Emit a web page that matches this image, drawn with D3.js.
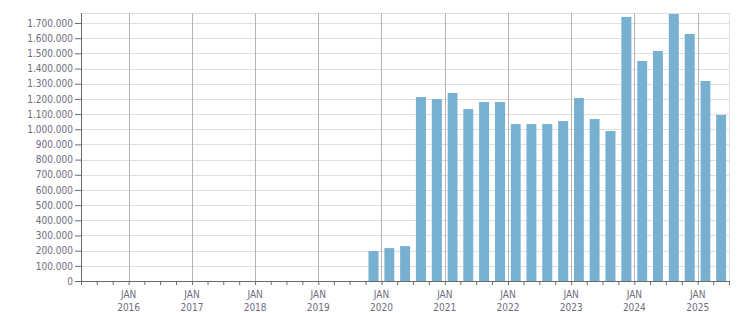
<!DOCTYPE html>
<html>
<head>
<meta charset="utf-8">
<script src="https://cdn.jsdelivr.net/npm/d3@7"></script>
<style>
  body { margin: 0; background: #fff; }
  svg { display: block; }
  text { font-family: "DejaVu Sans Condensed", "DejaVu Sans", sans-serif; font-size: 10px; fill: #6d6d7d; }
  .grid line { stroke: #dedede; }
  .yeargrid line { stroke: #b4b4b4; }
  .axis path, .axis line { stroke: #6a6a6a; }
</style>
</head>
<body>
<svg></svg>
<script>
// Quarterly totals (quarter start month), Apr 2015 - Apr 2025
var quarters = [
  "2015-04", "2015-07", "2015-10",
  "2016-01", "2016-04", "2016-07", "2016-10",
  "2017-01", "2017-04", "2017-07", "2017-10",
  "2018-01", "2018-04", "2018-07", "2018-10",
  "2019-01", "2019-04", "2019-07", "2019-10",
  "2020-01", "2020-04", "2020-07", "2020-10",
  "2021-01", "2021-04", "2021-07", "2021-10",
  "2022-01", "2022-04", "2022-07", "2022-10",
  "2023-01", "2023-04", "2023-07", "2023-10",
  "2024-01", "2024-04", "2024-07", "2024-10",
  "2025-01", "2025-04"
];
var values = [
  0, 0, 0,
  0, 0, 0, 0,
  0, 0, 0, 0,
  0, 0, 0, 0,
  0, 0, 0, 198000,
  217000, 230000, 1212000, 1199000,
  1239000, 1133000, 1179000, 1179000,
  1034000, 1034000, 1034000, 1054000,
  1206000, 1067000, 988000, 1740000,
  1450000, 1516000, 1759000, 1628000,
  1318000, 1094000
];
var yTicks = d3.range(0, 1700001, 100000);

// Layout
var svgWidth = 751,
    svgHeight = 313,
    margin = {top: 13, right: 22, bottom: 32, left: 81},
    width = svgWidth - margin.left - margin.right,
    height = svgHeight - margin.top - margin.bottom;

var parseMonth = d3.timeParse("%Y-%m");
var data = quarters.map(function (q, i) {
  var start = parseMonth(q);
  return {start: start, end: d3.timeMonth.offset(start, 3), value: values[i]};
});

var locale = d3.formatLocale({decimal: ",", thousands: ".", grouping: [3], currency: ["", ""]});
var fmt = locale.format(",d");

var x = d3.scaleTime()
  .domain([data[0].start, data[data.length - 1].end])
  .range([0, width]);

var y = d3.scaleLinear()
  .domain([0, 1766000])
  .range([height, 0]);

var svg = d3.select("svg")
  .attr("width", svgWidth)
  .attr("height", svgHeight);

var g = svg.append("g")
  .attr("transform", "translate(" + [margin.left, margin.top] + ")");

// horizontal grid
g.append("g")
  .classed("grid", true)
  .selectAll("line")
  .data(yTicks.concat([y.domain()[1]]))
  .enter()
    .append("line")
    .attr("x1", 0)
    .attr("x2", width)
    .attr("y1", function (d) { return Math.round(y(d)) + 0.5; })
    .attr("y2", function (d) { return Math.round(y(d)) + 0.5; });

// right border
g.append("line")
  .attr("x1", width + 0.5).attr("x2", width + 0.5)
  .attr("y1", 0).attr("y2", height)
  .style("stroke", "#dedede");

// year grid
var years = d3.timeYear.range(x.domain()[0], x.domain()[1]);
g.append("g")
  .classed("yeargrid", true)
  .selectAll("line")
  .data(years)
  .enter()
    .append("line")
    .attr("x1", function (d) { return Math.round(x(d)) + 0.5; })
    .attr("x2", function (d) { return Math.round(x(d)) + 0.5; })
    .attr("y1", 0)
    .attr("y2", height);

// bars
g.append("g")
  .selectAll("rect")
  .data(data.filter(function (d) { return d.value > 0; }))
  .enter()
    .append("rect")
    .attr("x", function (d) {
      var x0 = x(d.start), x1 = x(d.end);
      return (x0 + x1) / 2 - (x1 - x0) * 0.315;
    })
    .attr("width", function (d) { return (x(d.end) - x(d.start)) * 0.63; })
    .attr("y", function (d) { return y(d.value); })
    .attr("height", function (d) { return height - y(d.value); })
    .style("fill", "#78b0d2");

// y axis
var yAxis = g.append("g")
  .classed("axis", true)
  .call(d3.axisLeft(y).tickValues(yTicks).tickSize(6).tickPadding(2).tickFormat(fmt));
yAxis.select(".domain").attr("d", "M0.5,0V" + height);

// x axis
var quarterTicks = d3.timeMonth.every(3).range(x.domain()[0], d3.timeDay.offset(x.domain()[1], 1));
var xAxis = g.append("g")
  .classed("axis", true)
  .attr("transform", "translate(0," + height + ")")
  .call(d3.axisBottom(x).tickValues(quarterTicks).tickSize(4).tickFormat(""));
xAxis.select(".domain").attr("d", "M0," + 0.5 + "H" + width);

var jan = xAxis.selectAll(".yearlabel")
  .data(years)
  .enter()
    .append("text")
    .classed("yearlabel", true)
    .attr("text-anchor", "middle")
    .attr("transform", function (d) { return "translate(" + [x(d), 0] + ")"; });
jan.append("tspan")
  .attr("x", 0)
  .attr("y", 17)
  .text("JAN");
jan.append("tspan")
  .attr("x", 0)
  .attr("y", 30)
  .text(function (d) { return d3.timeFormat("%Y")(d); });

svg.selectAll(".axis text").style("fill", "#6d6d7d").style("font-size", "10px");
</script>
</body>
</html>
